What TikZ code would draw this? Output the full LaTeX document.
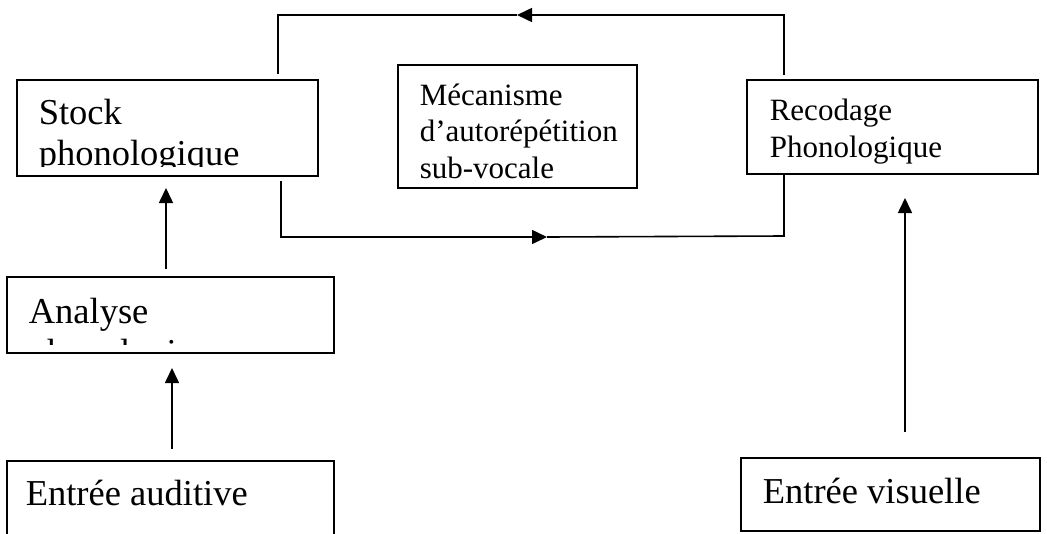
\documentclass[tikz,border=0pt]{standalone}
\usepackage{fontspec}
\setmainfont{Liberation Serif}
\usetikzlibrary{arrows.meta}

\tikzset{
  box/.style={draw, rectangle, anchor=north west, inner sep=0pt, outer sep=0pt},
  bigtxt/.style={anchor=base west, align=left, inner sep=0pt, font=\fontsize{36.5}{41}\selectfont},
  smalltxt/.style={anchor=base west, align=left, inner sep=0pt, font=\fontsize{31}{36.5}\selectfont}
}

\begin{document}
\begin{tikzpicture}[x=1pt, y=-1pt, line width=1.6pt, >={Triangle[length=15pt,width=14pt]}]
    \useasboundingbox (0,0) rectangle (1047,533);
    % boxes
    \node[box, minimum width=301pt, minimum height=96pt] (stock) at (17,80) {};
    \node[box, minimum width=239pt, minimum height=123pt] (meca) at (398,65) {};
    \node[box, minimum width=291pt, minimum height=94pt] (recod) at (747,80) {};
    \node[box, minimum width=327pt, minimum height=76pt] (analyse) at (7,277) {};
    \node[box, minimum width=327pt, minimum height=90pt] (audit) at (7,461) {};
    \node[box, minimum width=299pt, minimum height=73pt] (visu) at (741,458) {};
    % texts (placed at the baseline of their last line), cut off at the bottom of their box
    \begin{scope}
      \clip (stock.north west) rectangle ([yshift=10pt]stock.south east);
      \node[bigtxt] (stocktxt) at (38,165) {Stock\\phonologique};
    \end{scope}
    \begin{scope}
      \clip (analyse.north west) rectangle ([yshift=9pt]analyse.south east);
      \node[bigtxt] (analysetxt) at (28,364) {Analyse\\phonologique};
    \end{scope}
    \node[smalltxt] (mecatxt) at (419,178) {Mécanisme\\d’autorépétition\\sub-vocale};
    \node[smalltxt] (recodtxt) at (769,157) {Recodage\\Phonologique};
    \node[bigtxt] (audittxt) at (25,505) {Entrée auditive};
    \node[bigtxt] (visutxt) at (762,503) {Entrée visuelle};
    % loop
    \coordinate (topL) at (278,15);
    \coordinate (topM) at (517,15);
    \coordinate (topR) at (784,15);
    \coordinate (botL) at (281,237);
    \coordinate (botM) at (547,237);
    \coordinate (botR) at (784,236);
    \draw[shorten <=6pt] (stock.north -| topL) -- (topL) -- (topM);
    \draw[->, shorten <=5pt] (recod.north -| topR) -- (topR) -- (topM);
    \draw[->, shorten <=5pt] (stock.south -| botL) -- (botL) -- (botM);
    \draw (recod.south -| botR) -- (botR) -- (botM);
    % inputs
    \coordinate (upA) at (166,0);
    \coordinate (upB) at (172,0);
    \coordinate (upC) at (905,0);
    \draw[->, shorten <=8pt, shorten >=12pt] (analyse.north -| upA) -- (stock.south -| upA);
    \draw[->, shorten <=12pt, shorten >=15pt] (audit.north -| upB) -- (analyse.south -| upB);
    \draw[->, shorten <=26pt, shorten >=24pt] (visu.north -| upC) -- (recod.south -| upC);
\end{tikzpicture}
\end{document}
